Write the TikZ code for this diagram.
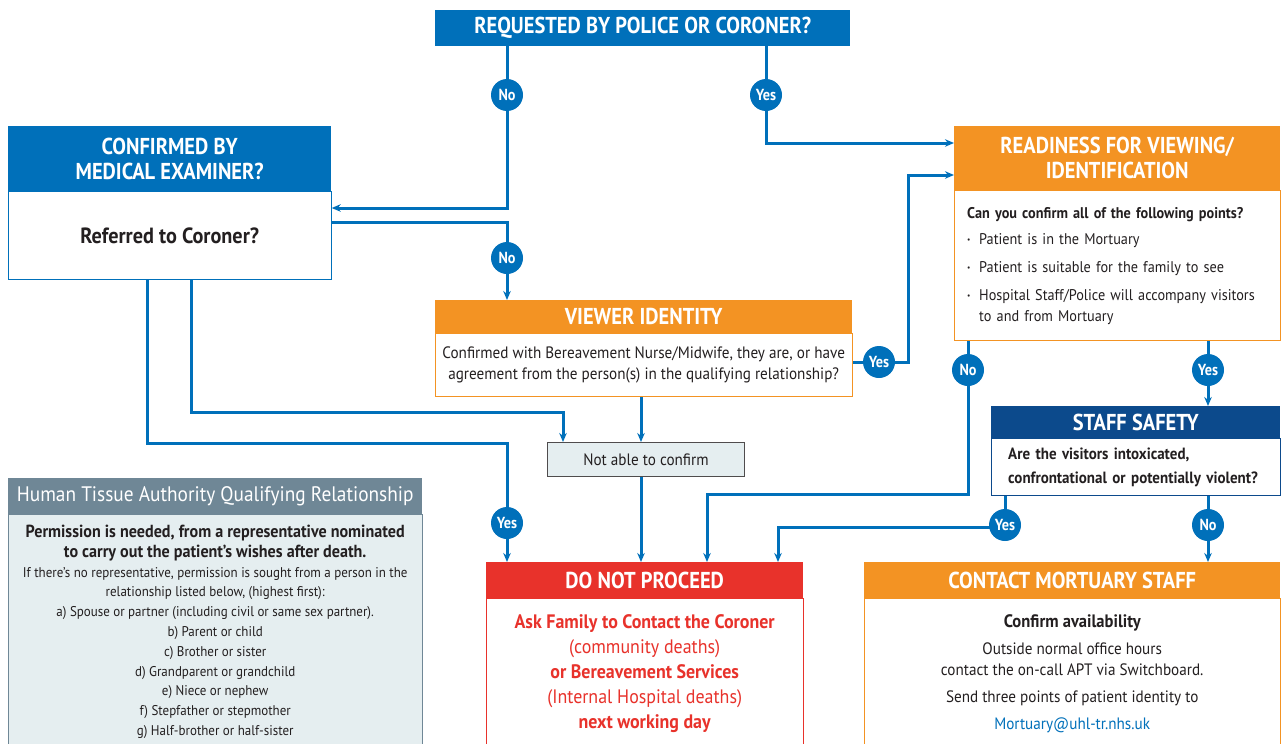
\documentclass[tikz,border=0pt]{standalone}
\usepackage{fontspec}
\setmainfont{PT Sans}[FakeStretch=0.92]
\newfontfamily\hdfam{PT Sans}[FakeStretch=0.89]
\usetikzlibrary{positioning, arrows.meta, backgrounds}

\definecolor{nhsblue}{RGB}{0,112,186}
\definecolor{nhsnavy}{RGB}{12,74,140}
\definecolor{nhsorange}{RGB}{243,147,35}
\definecolor{nhsred}{RGB}{232,50,43}
\definecolor{htagrey}{RGB}{111,135,150}
\definecolor{htapale}{RGB}{229,238,240}
\definecolor{inkgrey}{RGB}{35,31,32}

\newcommand{\htabold}[1]{{\bfseries\fontsize{17.5}{22}\selectfont #1}}
\newcommand{\readybullet}{\makebox[12pt][l]{\raisebox{2pt}{\fontsize{8}{8}\selectfont\textbullet}}}

\tikzset{
  hdr/.style={fill=#1, text=white, inner sep=0pt, align=center,
    font=\hdfam\bfseries\fontsize{23}{25}\selectfont},
  bodybox/.style={draw=#1, fill=white, line width=1pt, inner sep=0pt,
    align=center, text=inkgrey, font=\fontsize{16.5}{21}\selectfont},
  badge/.style={circle, fill=nhsblue, text=white, inner sep=0pt, minimum size=32pt,
    font=\hdfam\bfseries\fontsize{16}{16}\selectfont},
  flow/.style={draw=nhsblue, line width=3pt, -{Stealth[length=9pt,width=7.5pt]}},
}

\begin{document}
\begin{tikzpicture}[x=1pt, y=-1pt]
\useasboundingbox (0,0) rectangle (1288,744);

% top question
\node[hdr=nhsblue, minimum width=415pt, minimum height=36pt, anchor=north west] (reqh) at (435,10) {REQUESTED BY POLICE OR CORONER?};

% medical examiner
\node[hdr=nhsblue, minimum width=323pt, minimum height=65pt, anchor=north west] (confh) at (8,126) {CONFIRMED BY\\MEDICAL EXAMINER?};
\node[bodybox=nhsblue, below=0pt of confh, minimum width=323pt, minimum height=88pt,
  font=\bfseries\fontsize{22}{24}\selectfont] (confb) {Referred to Coroner?};

% viewer identity
\node[hdr=nhsorange, minimum width=417pt, minimum height=33pt, anchor=north west] (viewh) at (435,300) {VIEWER IDENTITY};
\node[bodybox=nhsorange, below=0pt of viewh, minimum width=417pt, minimum height=63pt] (viewb)
  {Confirmed with Bereavement Nurse/Midwife, they are, or have\\agreement from the person(s) in the qualifying relationship?};

% readiness
\node[hdr=nhsorange, minimum width=326pt, minimum height=64pt, anchor=north west] (readyh) at (954,126) {READINESS FOR VIEWING/\\IDENTIFICATION};
\node[bodybox=nhsorange, below=0pt of readyh, minimum width=326pt, minimum height=150pt,
  text width=300pt, align=left, font=\fontsize{15.5}{21}\selectfont] (readyb)
  {\textbf{Can you confirm all of the following points?}\\[5pt]
   \readybullet Patient is in the Mortuary\\[7pt]
   \readybullet Patient is suitable for the family to see\\[7pt]
   \readybullet Hospital Staff/Police will accompany visitors\\
   \hspace*{12pt}to and from Mortuary};

% staff safety
\node[hdr=nhsnavy, minimum width=289pt, minimum height=32pt, anchor=north west] (safeh) at (991,406) {STAFF SAFETY};
\node[bodybox=nhsnavy, below=0pt of safeh, minimum width=289pt, minimum height=57pt,
  text width=255pt, align=left, font=\bfseries\fontsize{16.3}{24}\selectfont] (safeb)
  {Are the visitors intoxicated,\\confrontational or potentially violent?};

% not able to confirm
\node[draw=inkgrey!80, fill=htapale, line width=1pt, minimum width=197pt, minimum height=34pt,
  anchor=north west, text=inkgrey, font=\fontsize{16.5}{20}\selectfont] (nac) at (547,442) {Not able to confirm};

% do not proceed
\node[hdr=nhsred, minimum width=317pt, minimum height=36pt, anchor=north west] (stoph) at (486,562) {DO NOT PROCEED};
\node[bodybox=nhsred, below=0pt of stoph, minimum width=317pt, minimum height=150pt, text=nhsred,
  font=\fontsize{19.5}{25}\selectfont] (stopb)
  {\textbf{Ask Family to Contact the Coroner}\\(community deaths)\\\textbf{or Bereavement Services}\\(Internal Hospital deaths)\\\textbf{next working day}};

% contact mortuary
\node[hdr=nhsorange, minimum width=416pt, minimum height=36pt, anchor=north west] (callh) at (864,562) {CONTACT MORTUARY STAFF};
\node[bodybox=nhsorange, below=0pt of callh, minimum width=416pt, minimum height=150pt] (callb)
  {{\bfseries\fontsize{18}{21}\selectfont Confirm availability}\\[6pt]Outside normal office hours\\contact the on-call APT via Switchboard.\\[6pt]
   Send three points of patient identity to\\[6pt]\textcolor{nhsblue}{Mortuary@uhl-tr.nhs.uk}};

% HTA panel
\node[fill=htagrey, text=white, inner sep=0pt, minimum width=414pt, minimum height=36pt, anchor=north west,
  font=\fontsize{21}{24}\selectfont] (htah) at (8,478) {Human Tissue Authority Qualifying Relationship};
\node[draw=htagrey, fill=htapale, line width=1pt, inner sep=0pt, below=0pt of htah, minimum width=414pt,
  minimum height=234pt, align=center, text=inkgrey, font=\fontsize{14.1}{19.8}\selectfont] (htab)
  {\htabold{Permission is needed, from a representative nominated}\\
   \htabold{to carry out the patient’s wishes after death.}\\
   If there’s no representative, permission is sought from a person in the\\
   relationship listed below, (highest first):\\
   a) Spouse or partner (including civil or same sex partner).\\
   b) Parent or child\\ c) Brother or sister\\ d) Grandparent or grandchild\\
   e) Niece or nephew\\ f) Stepfather or stepmother\\ g) Half-brother or half-sister};

% badges
\node[badge] (nA) at (507,95) {No};
\node[badge] (yA) at (766,95) {Yes};
\node[badge] (nB) at (507,258) {No};
\node[badge] (yB) at (879,362) {Yes};
\node[badge] (nC) at (968,370) {No};
\node[badge] (yC) at (1208,370) {Yes};
\node[badge] (yD) at (1005,525) {Yes};
\node[badge] (nD) at (1208,525) {No};
\node[badge] (yE) at (507,523) {Yes};

\coordinate (k1) at (507,208);
\coordinate (k2) at (766,143);
\coordinate (k3) at (507,222);
\coordinate (k4) at (908,362);
\coordinate (k5) at (908,175);
\coordinate (k6) at (968,494);
\coordinate (k7) at (707,494);
\coordinate (k8) at (778,527);
\coordinate (k9) at (147,443);
\coordinate (k10) at (507,443);
\coordinate (k11) at (191,412);
\coordinate (k12) at (563,412);
\coordinate (k13) at (641,420);

% connectors
\begin{scope}[on background layer]
  \draw[flow] (reqh.south -| nA) -- (k1) -- (k1 -| confb.east);
  \draw[flow] (reqh.south -| yA) -- (k2) -- (k2 -| readyh.west);
  \draw[flow] (k3 -| confb.east) -- (k3) -- (k3 |- viewh.north);
  \draw[flow] (k4 -| viewb.east) -- (k4) -- (k5) -- (k5 -| readyh.west);
  \draw[flow] (readyb.south -| k6) -- (k6) -- (k7) -- (k7 |- stoph.north);
  \draw[flow] (readyb.south -| yC) -- (yC |- safeh.north);
  \draw[flow] (safeb.south -| yD) -- (k8 -| yD) -- (k8) -- (k8 |- stoph.north);
  \draw[flow] (safeb.south -| nD) -- (nD |- callh.north);
  \draw[flow] (confb.south -| k9) -- (k9) -- (k10) -- (k10 |- stoph.north);
  \draw[flow] (confb.south -| k11) -- (k11) -- (k12) -- (k12 |- nac.north);
  \draw[flow] (viewb.south -| k13) -- (nac.north -| k13);
  \draw[flow] (nac.south -| k13) -- (stoph.north -| k13);
\end{scope}
\end{tikzpicture}
\end{document}
